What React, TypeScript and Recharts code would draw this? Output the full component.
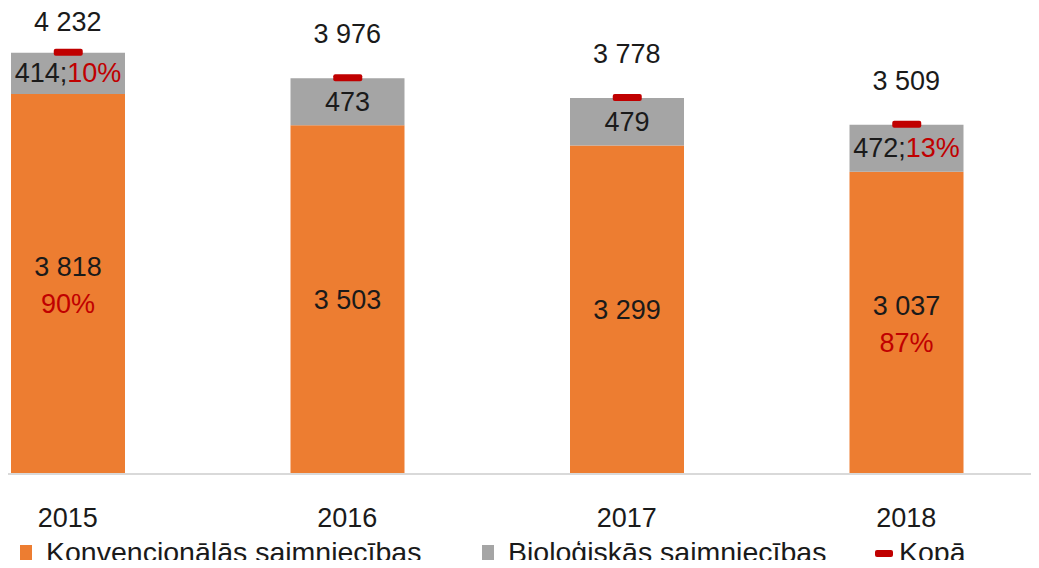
import { Bar, ComposedChart, LabelList, Line, XAxis, YAxis } from "recharts";

const years = ["2015", "2016", "2017", "2018"];
const conventional = [3818, 3503, 3299, 3037];
const biological = [414, 473, 479, 472];
const totals = [4232, 3976, 3778, 3509];
const convShare = ["90%", "", "", "87%"];
const bioShare = ["10%", "", "", "13%"];

const ORANGE = "#ED7D31";
const GREY = "#A5A5A5";
const RED = "#C00000";
const TEXT = "#1a1a1a";
const FONT = "'Liberation Sans', Arial, sans-serif";
const FS = 27;

const fmt = (v: number) => String(v).replace(/\B(?=(\d{3})+(?!\d))/g, " ");

const rows = years.map((year, i) => ({
  year,
  conventional: conventional[i],
  biological: biological[i],
  total: totals[i],
}));

const ConvLabel = (props: any) => {
  const { x, y, width, height, index } = props;
  const cx = x + width / 2;
  const cy = y + height / 2;
  const pct = convShare[index];
  if (!pct) {
    return (
      <text x={cx} y={cy} textAnchor="middle" dominantBaseline="central" fill={TEXT} fontSize={FS} fontFamily={FONT}>
        {fmt(conventional[index])}
      </text>
    );
  }
  return (
    <g fontSize={FS} fontFamily={FONT} textAnchor="middle">
      <text x={cx} y={cy - 17} dominantBaseline="central" fill={TEXT}>
        {fmt(conventional[index])}
      </text>
      <text x={cx} y={cy + 20} dominantBaseline="central" fill={RED}>
        {pct}
      </text>
    </g>
  );
};

const BioLabel = (props: any) => {
  const { x, y, width, height, index } = props;
  const pct = bioShare[index];
  return (
    <text
      x={x + width / 2}
      y={y + height / 2}
      textAnchor="middle"
      dominantBaseline="central"
      fill={TEXT}
      fontSize={FS}
      fontFamily={FONT}
    >
      {fmt(biological[index])}
      {pct ? ";" : ""}
      {pct ? <tspan fill={RED}>{pct}</tspan> : null}
    </text>
  );
};

const TotalDot = (props: any) => {
  const { cx, cy } = props;
  return <rect x={cx - 14} y={cy - 4} width={29} height={7} rx={2} fill={RED} />;
};

const TotalLabel = (props: any) => {
  const { x, y, index } = props;
  return (
    <text
      x={x}
      y={Math.max(y - 44, 22)}
      textAnchor="middle"
      dominantBaseline="central"
      fill={TEXT}
      fontSize={FS}
      fontFamily={FONT}
    >
      {fmt(totals[index])}
    </text>
  );
};

const YearTick = (props: any) => {
  const { x, y, payload } = props;
  return (
    <text x={x} y={y + 36} textAnchor="middle" dominantBaseline="central" fill={TEXT} fontSize={FS} fontFamily={FONT}>
      {payload.value}
    </text>
  );
};

export default function App() {
  return (
    <div style={{ position: "relative", width: 1039, height: 568, margin: -8, overflow: "hidden", background: "#fff" }}>
      <div style={{ position: "absolute", left: -72, top: 0 }}>
        <ComposedChart width={1118} height={568} data={rows} margin={{ top: 26, right: 0, left: 0, bottom: 0 }} barCategoryGap="29.5%">
          <XAxis
            dataKey="year"
            height={94}
            axisLine={{ stroke: "#d9d9d9", strokeWidth: 2 }}
            tickLine={false}
            tick={<YearTick />}
          />
          <YAxis hide domain={[0, 4500]} />
          <Bar dataKey="conventional" stackId="a" fill={ORANGE} barSize={114} isAnimationActive={false}>
            <LabelList dataKey="conventional" content={<ConvLabel />} />
          </Bar>
          <Bar dataKey="biological" stackId="a" fill={GREY} barSize={114} isAnimationActive={false}>
            <LabelList dataKey="biological" content={<BioLabel />} />
          </Bar>
          <Line
            dataKey="total"
            stroke="none"
            dot={<TotalDot />}
            activeDot={false}
            isAnimationActive={false}
          >
            <LabelList dataKey="total" content={<TotalLabel />} />
          </Line>
        </ComposedChart>
      </div>
      <div
        style={{
          position: "absolute",
          top: 535,
          left: 0,
          width: 1039,
          height: 33,
          fontFamily: FONT,
          fontSize: 28.5,
          color: TEXT,
        }}
      >
        <div style={{ position: "absolute", left: 20, top: 10, width: 12, height: 17, background: ORANGE }} />
        <div style={{ position: "absolute", left: 46, top: 0, lineHeight: "34px", whiteSpace: "nowrap" }}>
          Konvencionālās saimniecības
        </div>
        <div style={{ position: "absolute", left: 482, top: 10, width: 12, height: 17, background: GREY }} />
        <div style={{ position: "absolute", left: 508, top: 0, lineHeight: "34px", whiteSpace: "nowrap" }}>
          Bioloģiskās saimniecības
        </div>
        <div style={{ position: "absolute", left: 875, top: 15, width: 18, height: 7, borderRadius: 2, background: RED }} />
        <div style={{ position: "absolute", left: 899, top: 0, lineHeight: "34px", whiteSpace: "nowrap" }}>
          Kopā
        </div>
      </div>
    </div>
  );
}
